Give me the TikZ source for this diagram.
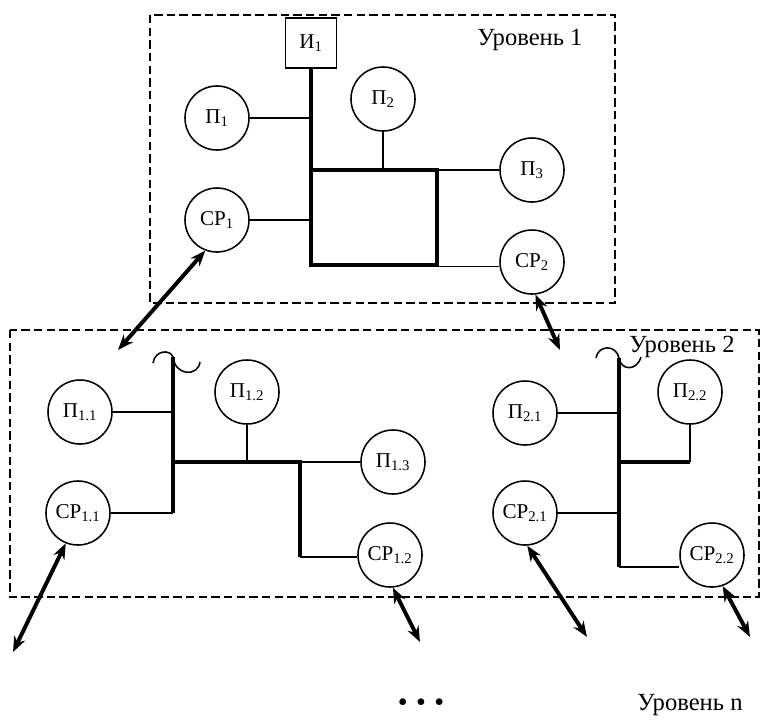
\documentclass[tikz,border=0pt]{standalone}
\usepackage{fontspec}
\setmainfont{Liberation Serif}
\usetikzlibrary{arrows.meta}

\begin{document}
\begin{tikzpicture}[
  x=0.025cm, y=-0.025cm,
  unit/.style={draw, circle, line width=1.1pt, minimum size=1.6cm, inner sep=0pt, font=\fontsize{15}{17}\selectfont},
  src/.style={draw, rectangle, line width=1.1pt, minimum width=1.275cm, minimum height=1.25cm, inner sep=0pt, font=\fontsize{15}{17}\selectfont},
  hub/.style={draw, rectangle, line width=2.4pt, minimum width=3.15cm, minimum height=2.375cm, inner sep=0pt},
  bus/.style={line width=2.4pt},
  tap/.style={line width=1.1pt},
  link/.style={{Stealth[length=11pt,width=8.5pt]}-{Stealth[length=11pt,width=8.5pt]}, line width=2.8pt},
  frame/.style={line width=1.6pt, dash pattern=on 6pt off 3pt},
  lvl/.style={font=\fontsize{17.5}{20}\selectfont, inner sep=0pt},
]
\useasboundingbox (0,0) rectangle (761,725);

% level 1
\draw[frame] (150,15) rectangle (615,303);
\node[lvl] (lvl1) at (530,40) {Уровень 1};

\node[src] (i1) at (311,43) {И\textsubscript{1}};
\node[hub] (hub) at (374,217.5) {};
\node[unit] (p1) at (217,118) {П\textsubscript{1}};
\node[unit] (p2) at (383,99) {П\textsubscript{2}};
\node[unit] (p3) at (532,170) {П\textsubscript{3}};
\node[unit] (cp1) at (217,220) {СР\textsubscript{1}};
\node[unit] (cp2) at (532,262) {СР\textsubscript{2}};

\draw[bus] (i1.south) -- (i1.south |- hub.north west);
\draw[tap] (p1) -- (p1 -| hub.west);
\draw[tap] (cp1) -- (cp1 -| hub.west);
\draw[tap] (p2) -- (p2 |- hub.north);
\draw[tap] (p3) -- (p3 -| hub.east);
\draw[tap] (hub.south east) -- (hub.south east -| cp2.west);

% level 2
\draw[frame] (10,330) rectangle (759,597);
\node[lvl] (lvl2) at (682,347) {Уровень 2};

% left group
\node[unit] (p11) at (80,412) {П\textsubscript{1.1}};
\node[unit] (cp11) at (78,513) {СР\textsubscript{1.1}};
\node[unit] (p12) at (247,392) {П\textsubscript{1.2}};
\node[unit] (p13) at (393,462) {П\textsubscript{1.3}};
\node[unit] (cp12) at (390,555) {СР\textsubscript{1.2}};

\coordinate (b1top) at (173,357);
\coordinate (b1bot) at (173,513);
\coordinate (b1mid) at (173,462);
\coordinate (b1turn) at (300,462);
\coordinate (b1end) at (300,557);

\draw[bus] (b1top) -- (b1bot);
\draw[bus] (b1mid) -- (b1turn) -- (b1end);
\draw[tap] (p11) -- (p11 -| b1top);
\draw[tap] (cp11) -- (cp11 -| b1top);
\draw[tap] (p12) -- (p12 |- b1mid);
\draw[tap] (b1turn) -- (p13);
\draw[tap] (b1end) -- (b1end -| cp12.west);
\draw[tap] (153,363) .. controls (155,350) and (170,349) .. (b1top)
  .. controls (175,376) and (198,377) .. (200,362);

% right group
\node[unit] (p21) at (525,413) {П\textsubscript{2.1}};
\node[unit] (cp21) at (525,513) {СР\textsubscript{2.1}};
\node[unit] (p22) at (690,392) {П\textsubscript{2.2}};
\node[unit] (cp22) at (712,555) {СР\textsubscript{2.2}};

\coordinate (b2top) at (619,358);
\coordinate (b2bot) at (619,567);
\coordinate (b2mid) at (619,462);
\coordinate (b2turn) at (690,462);

\draw[bus] (b2top) -- (b2bot);
\draw[bus] (b2mid) -- (b2turn);
\draw[tap] (b2turn) -- (p22);
\draw[tap] (p21) -- (p21 -| b2top);
\draw[tap] (cp21) -- (cp21 -| b2top);
\draw[tap] (b2bot) -- (b2bot -| cp22.west);
\draw[tap] (596,358) .. controls (598,345) and (616,344) .. (b2top)
  .. controls (621,371) and (637,371) .. (641,357);

% links between levels
\coordinate (e1) at (118,350);
\coordinate (e2) at (560,350);
\coordinate (e3) at (13,652);
\coordinate (e4) at (420,642);
\coordinate (e5) at (587,637);
\coordinate (e6) at (750,637);

\draw[link] (cp1.249) -- (e1);
\draw[link] (cp2.276) -- (e2);
\draw[link] (cp11.248) -- (e3);
\draw[link] (cp12.275) -- (e4);
\draw[link] (cp21.274) -- (e5);
\draw[link] (cp22.289) -- (e6);

% level n
\node[lvl] (dots) at (421,705) {\fontsize{20}{20}\selectfont\textbullet\kern6pt\textbullet\kern6pt\textbullet};
\node[lvl] (lvln) at (690,705) {Уровень n};

\end{tikzpicture}
\end{document}
